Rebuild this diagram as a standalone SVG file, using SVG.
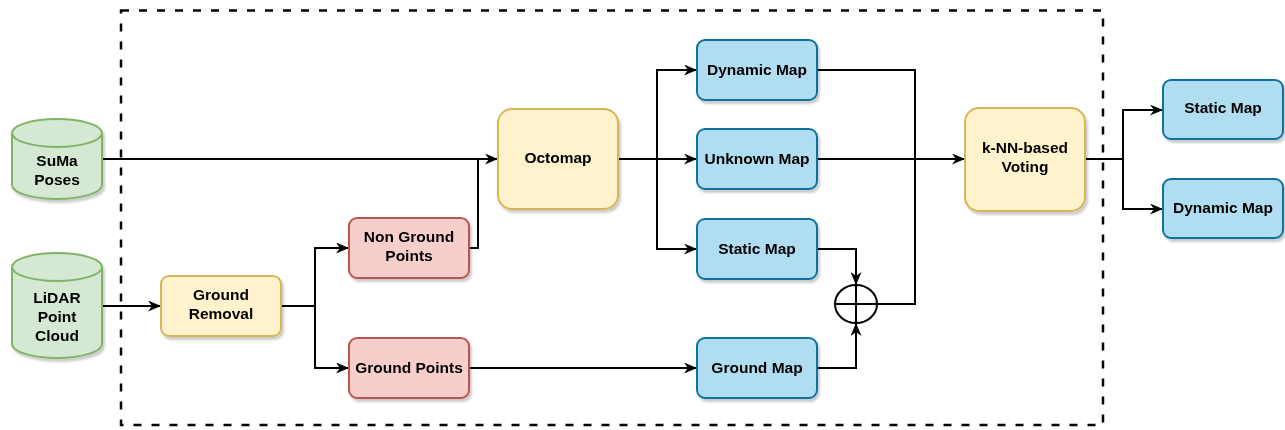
<svg xmlns="http://www.w3.org/2000/svg" width="1285" height="430" viewBox="0 0 1285 430">
<style>
text{font-family:"Liberation Sans",Arial,sans-serif;font-weight:bold;font-size:15.5px;fill:#000;text-anchor:middle}
.g{fill:#d5e8d4;stroke:#82b366;stroke-width:2}
.y{fill:#fff2cc;stroke:#d6b656;stroke-width:2}
.r{fill:#f8cecc;stroke:#b85450;stroke-width:2}
.b{fill:#b1ddf0;stroke:#10739e;stroke-width:2}
.e{fill:none;stroke:#000;stroke-width:2}
.a{marker-end:url(#arr)}
</style>
<defs>
<marker id="arr" viewBox="0 0 13 11" refX="13" refY="5.5" markerWidth="13" markerHeight="11" markerUnits="userSpaceOnUse" orient="auto">
<path d="M0,0 L13,5.5 L0,11 L4,5.5 Z" fill="#000"/>
</marker>
<filter id="sh" x="-10%" y="-10%" width="130%" height="130%">
<feDropShadow dx="2" dy="3" stdDeviation="1" flood-color="#000" flood-opacity="0.2"/>
</filter>
</defs>
<rect x="121" y="10.5" width="982" height="414.5" fill="none" stroke="#000" stroke-width="2.5" stroke-dasharray="8 10"/>
<g id="connectors">
<path class="e a" d="M102,159 H498"/>
<path class="e a" d="M102,306 H161"/>
<path class="e" d="M281,306 H315"/>
<path class="e a" d="M315,306 V248 H349"/>
<path class="e a" d="M315,306 V368 H349"/>
<path class="e" d="M469,248 H478 V159"/>
<path class="e a" d="M618,159 H697"/>
<path class="e a" d="M657,159 V70 H697"/>
<path class="e a" d="M657,159 V249 H697"/>
<path class="e a" d="M469,368 H697"/>
<path class="e a" d="M817,249 H856 V285"/>
<path class="e a" d="M817,368 H856 V323"/>
<path class="e" d="M817,70 H915 V304 H877"/>
<path class="e a" d="M817,159 H965"/>
<path class="e" d="M1085,159 H1123"/>
<path class="e a" d="M1123,159 V110 H1163"/>
<path class="e a" d="M1123,159 V209 H1163"/>
</g>
<g id="suma" filter="url(#sh)">
<path class="g" d="M12,133 A45,14 0 0 1 102,133 V185 A45,14 0 0 1 12,185 Z"/>
<path class="g" d="M12,133 A45,14 0 0 0 102,133" fill="none"/>
<text x="57" y="166">SuMa</text>
<text x="57" y="185">Poses</text>
</g>
<g id="lidar" filter="url(#sh)">
<path class="g" d="M12,267 A45,14 0 0 1 102,267 V344 A45,14 0 0 1 12,344 Z"/>
<path class="g" d="M12,267 A45,14 0 0 0 102,267" fill="none"/>
<text x="57" y="303">LiDAR</text>
<text x="57" y="322">Point</text>
<text x="57" y="341">Cloud</text>
</g>
<g id="ground-removal" filter="url(#sh)">
<rect class="y" x="161" y="276" width="120" height="60" rx="8"/>
<text x="221" y="300">Ground</text>
<text x="221" y="319">Removal</text>
</g>
<g id="non-ground" filter="url(#sh)">
<rect class="r" x="349" y="218" width="120" height="60" rx="8"/>
<text x="409" y="242">Non Ground</text>
<text x="409" y="261">Points</text>
</g>
<g id="ground-points" filter="url(#sh)">
<rect class="r" x="349" y="338" width="120" height="60" rx="8"/>
<text x="409" y="373">Ground Points</text>
</g>
<g id="octomap" filter="url(#sh)">
<rect class="y" x="498" y="109" width="120" height="100" rx="14"/>
<text x="558" y="163">Octomap</text>
</g>
<g id="dynamic-map" filter="url(#sh)">
<rect class="b" x="697" y="40" width="120" height="60" rx="8"/>
<text x="757" y="75">Dynamic Map</text>
</g>
<g id="unknown-map" filter="url(#sh)">
<rect class="b" x="697" y="129" width="120" height="60" rx="8"/>
<text x="757" y="164">Unknown Map</text>
</g>
<g id="static-map" filter="url(#sh)">
<rect class="b" x="697" y="219" width="120" height="60" rx="8"/>
<text x="757" y="254">Static Map</text>
</g>
<g id="ground-map" filter="url(#sh)">
<rect class="b" x="697" y="338" width="120" height="60" rx="8"/>
<text x="757" y="373">Ground Map</text>
</g>
<g id="plus">
<ellipse cx="856" cy="304" rx="21" ry="19" fill="#fff" stroke="#000" stroke-width="2"/>
<path d="M835,304 H877 M856,285 V323" stroke="#000" stroke-width="2"/>
</g>
<g id="knn" filter="url(#sh)">
<rect class="y" x="965" y="108" width="120" height="103" rx="14"/>
<text x="1025" y="153">k-NN-based</text>
<text x="1025" y="172">Voting</text>
</g>
<g id="out-static" filter="url(#sh)">
<rect class="b" x="1163" y="80" width="120" height="59" rx="8"/>
<text x="1223" y="113">Static Map</text>
</g>
<g id="out-dynamic" filter="url(#sh)">
<rect class="b" x="1163" y="179" width="120" height="59" rx="8"/>
<text x="1223" y="213">Dynamic Map</text>
</g>
</svg>
